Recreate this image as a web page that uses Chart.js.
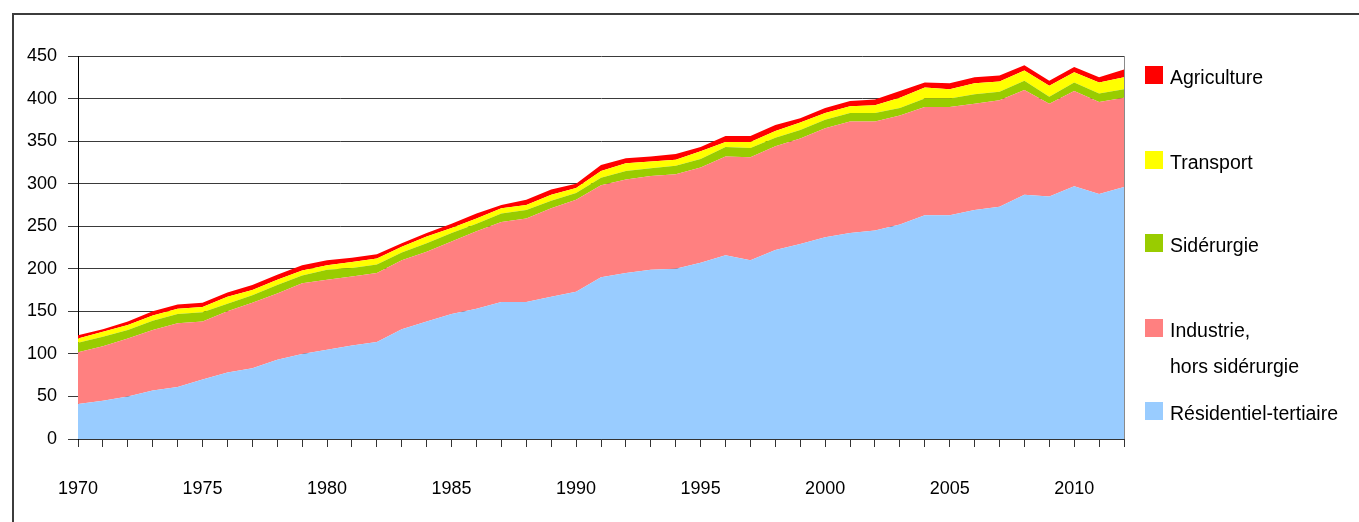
<!DOCTYPE html>
<html>
<head>
<meta charset="utf-8">
<script src="https://cdn.jsdelivr.net/npm/chart.js@4.4.1/dist/chart.umd.min.js"></script>
<style>
  html, body { margin: 0; padding: 0; background: #ffffff; }
  #wrap { position: absolute; left: 0; top: 0; width: 1359px; height: 522px; }
</style>
</head>
<body>
<div id="wrap"><canvas id="c" width="1359" height="522"></canvas></div>
<script>
const years = ['1970','1971','1972','1973','1974','1975','1976','1977','1978','1979',
  '1980','1981','1982','1983','1984','1985','1986','1987','1988','1989',
  '1990','1991','1992','1993','1994','1995','1996','1997','1998','1999',
  '2000','2001','2002','2003','2004','2005','2006','2007','2008','2009',
  '2010','2011','2012'];

const residentiel = [41,45,50,57,61,70,78,83,93,100,
  105,110,114,129,138,147,153,161,161,167,
  173,190,195,199,200,207,216,210,222,229,
  237,242,245,252,263,263,269,273,287,285,
  297,288,296];
const industrie = [61,64,68,71,75,68,72,77,78,83,
  82,81,81,81,82,85,91,94,98,104,
  108,108,110,110,111,112,116,121,122,124,
  128,131,128,128,127,127,125,125,123,109,
  112,108,105];
const siderurgie = [11,11,10,11,11,11,9,9,10,9,
  12,10,10,9,10,10,9,10,10,9,
  8,9,10,9,10,10,11,11,10,10,
  10,10,10,9,10,10,11,10,11,8,
  10,10,10];
const transport = [5,6,6,6,6,6,8,6,6,6,
  5,7,7,7,8,6,6,6,6,7,
  6,8,9,8,7,9,6,7,8,9,
  8,8,9,12,13,11,13,12,12,13,
  12,13,14];
const agriculture = [4,3,4,5,5,5,5,6,6,6,
  6,5,5,4,4,5,6,4,6,6,
  5,7,6,6,7,5,7,7,7,5,
  6,6,7,8,6,7,7,7,6,6,
  6,6,9];

const yTicks = [0,50,100,150,200,250,300,350,400,450];

const seriesNames = ['Résidentiel-tertiaire', ['Industrie,', 'hors sidérurgie'], 'Sidérurgie', 'Transport', 'Agriculture'];
const seriesColors = ['#99CCFF', '#FF8080', '#99CC00', '#FFFF00', '#FF0000'];
const seriesData = [residentiel, industrie, siderurgie, transport, agriculture];

const FONT = '"Liberation Sans", Arial, sans-serif';

const datasets = seriesData.map((d, i) => ({
  label: seriesNames[i],
  data: d,
  backgroundColor: seriesColors[i],
  borderColor: seriesColors[i],
  borderWidth: 0,
  pointRadius: 0,
  pointHoverRadius: 0,
  tension: 0,
  fill: i === 0 ? 'origin' : '-1'
}));

const framePlugin = {
  id: 'frame',
  beforeDraw(chart) {
    const ctx = chart.ctx;
    ctx.save();
    ctx.fillStyle = '#ffffff';
    ctx.fillRect(0, 0, chart.width, chart.height);
    ctx.fillStyle = '#3c3c3c';
    ctx.fillRect(12, 13, 2, chart.height - 13);
    ctx.fillRect(12, 13, chart.width - 12, 2);
    ctx.restore();
  },
  afterDatasetsDraw(chart) {
    const ctx = chart.ctx;
    const a = chart.chartArea;
    ctx.save();
    ctx.strokeStyle = '#8a8a8a';
    ctx.lineWidth = 1;
    ctx.beginPath();
    ctx.moveTo(Math.round(a.right) + 0.5, a.top);
    ctx.lineTo(Math.round(a.right) + 0.5, a.bottom);
    ctx.stroke();
    ctx.restore();
  }
};

const legendPlugin = {
  id: 'customLegend',
  afterDraw(chart) {
    const ctx = chart.ctx;
    const ds = chart.data.datasets;
    // top-to-bottom order: reverse of stacking order
    const boxTops = [66, 151, 234, 319, 402];
    ctx.save();
    ctx.font = '19.5px ' + FONT;
    ctx.textBaseline = 'alphabetic';
    ctx.textAlign = 'left';
    for (let k = 0; k < ds.length; k++) {
      const d = ds[ds.length - 1 - k];
      const top = boxTops[k];
      ctx.fillStyle = d.backgroundColor;
      ctx.fillRect(1145, top, 18, 18);
      ctx.fillStyle = '#000000';
      const lines = Array.isArray(d.label) ? d.label : [d.label];
      lines.forEach((ln, j) => {
        ctx.fillText(ln, 1170, top + 17.5 + j * 36.5);
      });
    }
    ctx.restore();
  }
};

new Chart(document.getElementById('c'), {
  type: 'line',
  data: { labels: years, datasets: datasets },
  options: {
    responsive: false,
    animation: false,
    events: [],
    layout: { padding: { left: 0, top: 56, right: 235, bottom: 0 } },
    plugins: {
      legend: { display: false },
      tooltip: { enabled: false },
      title: { display: false }
    },
    elements: { line: { borderWidth: 0 } },
    scales: {
      x: {
        type: 'category',
        offset: false,
        grid: {
          display: true,
          drawOnChartArea: false,
          drawTicks: true,
          tickLength: 8,
          color: '#333333',
          lineWidth: 1
        },
        border: { display: true, color: '#333333', width: 1 },
        ticks: {
          autoSkip: false,
          maxRotation: 0,
          minRotation: 0,
          padding: 31,
          color: '#000000',
          font: { family: FONT, size: 18 },
          callback: function (val, idx) {
            const y = parseInt(years[idx], 10);
            return (y % 5 === 0) ? years[idx] : '';
          }
        },
        afterFit: function (s) { s.height = 83; }
      },
      y: {
        stacked: true,
        min: 0,
        max: 450,
        afterBuildTicks: function (s) { s.ticks = yTicks.map(v => ({ value: v })); },
        grid: {
          display: true,
          drawOnChartArea: true,
          drawTicks: true,
          tickLength: 10,
          color: '#3a3a3a',
          lineWidth: 1
        },
        border: { display: true, color: '#000000', width: 1 },
        ticks: {
          padding: 11,
          color: '#000000',
          font: { family: FONT, size: 18 }
        },
        afterFit: function (s) { s.width = 78; }
      }
    }
  },
  plugins: [framePlugin, legendPlugin]
});
</script>
</body>
</html>
